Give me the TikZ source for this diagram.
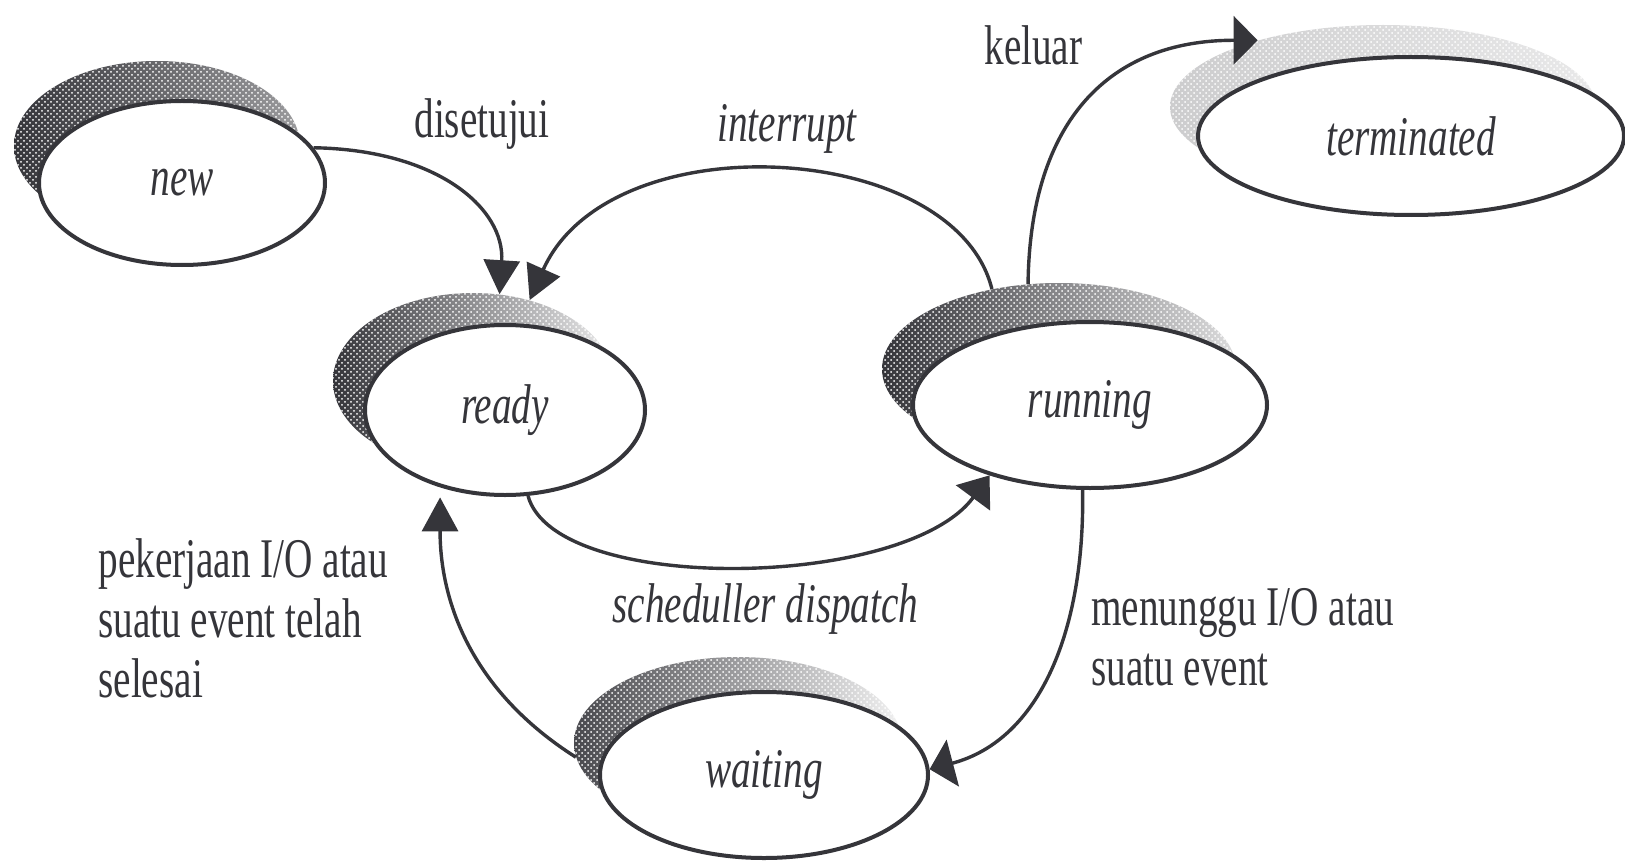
\documentclass[tikz,border=0pt]{standalone}
\usepackage{fontspec}
\setmainfont{Liberation Serif}[FakeStretch=0.7]
\usetikzlibrary{shapes.geometric,arrows.meta,backgrounds,patterns}
\definecolor{ink}{HTML}{35353A}

% shaded, speckled crescent between a halo ellipse and the state ellipse in front of it
\newcommand{\crescent}[7]{%
  \begin{scope}
    \clip (#1.center) ellipse [x radius=#3, y radius=#4];
    \shade[even odd rule, #7]
      (#1.center) ellipse [x radius=#3, y radius=#4]
      (#2.center) ellipse [x radius=#5, y radius=#6];
    \fill[even odd rule, pattern=crosshatch dots, pattern color=white]
      (#1.center) ellipse [x radius=#3, y radius=#4]
      (#2.center) ellipse [x radius=#5, y radius=#6];
  \end{scope}}

\begin{document}
\begin{tikzpicture}[x=0.5pt,y=-0.5pt,
  state/.style 2 args={ellipse, draw=ink, fill=white, line width=2pt, inner sep=0pt,
    minimum width=#1, minimum height=#2, text=ink,
    font=\fontsize{28}{30}\selectfont\itshape},
  halo/.style 2 args={ellipse, inner sep=0pt, minimum width=#1, minimum height=#2},
  link/.style={draw=ink, line width=1.7pt},
  tipv/.style={-{Triangle[length=17pt,width=18pt]}},
  tipd/.style={-{Triangle[length=14pt,width=21pt]}},
  tiph/.style={-{Triangle[length=12pt,width=24pt]}},
  lbl/.style={inner sep=0pt, anchor=base west, text=ink,
    font=\fontsize{28}{30}\selectfont},
  lbli/.style={lbl, font=\fontsize{28}{30}\selectfont\itshape},
]
\useasboundingbox (0,0) rectangle (1625,861);

% halos (shadow outlines) behind the states
\node[halo={143pt}{85pt}] (newS) at (157,146) {};
\node[halo={140pt}{88pt}] (readyS) at (473,381) {};
\node[halo={177pt}{86pt}] (runningS) at (1059,369) {};
\node[halo={213pt}{82pt}] (terminatedS) at (1383,107) {};
\node[halo={164pt}{86pt}] (waitingS) at (738,743) {};

% states
\node[state={143pt}{82pt}] (new) at (182,183) {new};
\node[state={140pt}{85pt}] (ready) at (505,410) {ready};
\node[state={177pt}{83pt}] (running) at (1090,405) {running};
\node[state={213pt}{79pt}] (terminated) at (1411,136) {terminated};
\node[state={164pt}{83pt}] (waiting) at (764,775) {waiting};

\begin{pgfonlayer}{background}
  \crescent{newS}{new}{143}{85}{143}{82}{left color=ink, middle color=ink!90, right color=ink!45}
  \crescent{readyS}{ready}{140}{88}{140}{85}{left color=ink, middle color=ink!45, right color=white}
  \crescent{runningS}{running}{177}{86}{177}{83}{left color=ink, middle color=ink!85, right color=ink!10}
  \crescent{terminatedS}{terminated}{213}{82}{213}{79}{left color=ink!25, middle color=ink!30, right color=ink!10}
  \crescent{waitingS}{waiting}{164}{86}{164}{83}{left color=ink!90, middle color=ink!40, right color=white}
\end{pgfonlayer}

% transitions
\draw[link, tipv] (new.15) .. controls (440,150) and (505,210) .. (readyS.73);
\draw[link, tipv] (runningS.130) .. controls (955,140) and (610,120) .. (readyS.55);
\draw[link, tipd] (ready.-75) .. controls (555,595) and (905,590) .. (running.-145);
\draw[link, tiph] (runningS.110) .. controls (1030,120) and (1110,40) .. (terminatedS.152);
\draw[link, tiph] (running.-95) .. controls (1085,630) and (1040,740) .. (waiting.2);
\draw[link, tipv, shorten >=5pt] (waitingS.185) .. controls (470,690) and (440,600) .. (ready.-130);

% transition labels
\node[lbl] (tDisetujui) at (414,138) {disetujui};
\node[lbli] (tInterrupt) at (717,142) {interrupt};
\node[lbl] (tKeluar) at (984,65) {keluar};
\node[lbli] (tSched) at (612,622) {scheduller dispatch};
\node[lbl, align=left] (tSelesai) at (98,697) {pekerjaan I/O atau\\suatu event telah\\selesai};
\node[lbl, align=left] (tMenunggu) at (1091,685) {menunggu I/O atau\\suatu event};
\end{tikzpicture}
\end{document}
